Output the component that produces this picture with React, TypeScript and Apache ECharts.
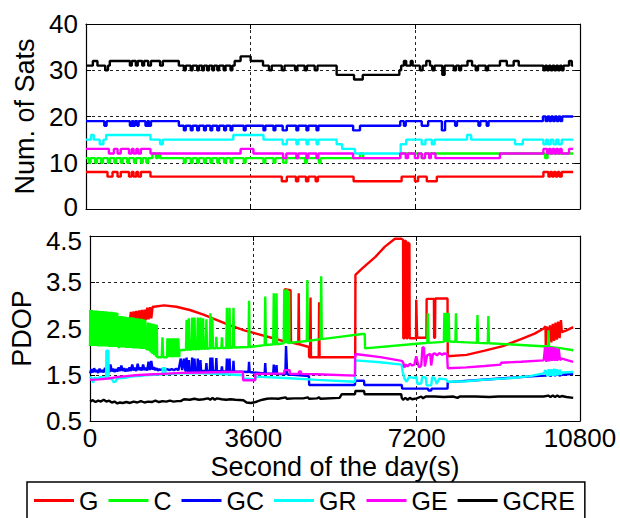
import React, { useEffect, useRef } from "react";
import * as echarts from "echarts";

// ---------- labels ----------
const seriesNames = ["G", "C", "GC", "GR", "GE", "GCRE"];
const seriesColors = ["#ff0000", "#00ff00", "#0000ff", "#00ffff", "#ff00ff", "#000000"];
const xTicks = [0, 3600, 7200, 10800];
const satsTicks = [0, 10, 20, 30, 40];
const pdopTicks = [0.5, 1.5, 2.5, 3.5, 4.5];

// ---------- Num. of Sats (step data: [second, count]) ----------
const satsG = [[0,8],[470,7],[580,8],[690,7],[760,8],[940,7],[1000,8],[1040,7],[1100,8],[1140,7],[1200,8],[1410,7],[4280,6],[4390,7],[4590,6],[4640,7],[4810,6],[4860,7],[5020,6],[5070,7],[5850,6],[6900,7],[7190,6],[7260,7],[7450,6],[7670,7],[10000,8],[10110,7],[10150,8],[10190,7],[10230,8],[10270,7],[10310,8],[10350,7],[10400,8],[10650,8]];
const satsC = [[0,11],[60,10],[100,11],[200,10],[240,11],[330,10],[370,11],[480,10],[520,11],[620,10],[660,11],[760,10],[800,11],[900,10],[940,11],[1050,10],[1090,11],[1200,10],[1240,11],[1320,10],[1360,11],[1450,12],[1530,11],[1570,12],[1620,11],[2140,10],[2180,11],[2290,10],[2330,11],[2430,10],[2470,11],[2580,10],[2620,11],[2720,10],[2760,11],[2870,10],[2910,11],[3020,10],[3060,11],[3160,10],[3200,11],[3450,10],[3490,11],[3880,10],[3920,11],[4100,10],[4140,11],[4310,10],[4380,11],[4790,10],[4830,11],[5090,10],[5130,11],[5990,12],[6060,11],[6870,12],[7340,11],[7410,12],[10040,11],[10090,12],[10650,12]];
const satsGC = [[0,19],[400,18],[450,19],[960,18],[1000,19],[1040,18],[1070,19],[1120,18],[1150,19],[1300,18],[1340,19],[1380,18],[1420,19],[2030,18],[2140,17],[2180,18],[2290,17],[2330,18],[2430,17],[2470,18],[2580,17],[2620,18],[2720,17],[2760,18],[2870,17],[2910,18],[3020,17],[3060,18],[3160,17],[3200,18],[3450,17],[3490,18],[3880,17],[3920,18],[4100,17],[4140,18],[4300,17],[4390,18],[4600,17],[4640,18],[4820,17],[4860,18],[5040,17],[5080,18],[5840,17],[5990,18],[6870,19],[6950,18],[6990,19],[7340,18],[7480,19],[7780,17],[7850,19],[8070,18],[8110,19],[8580,18],[8620,19],[8760,18],[8800,19],[9990,20],[10050,19],[10090,20],[10130,19],[10170,20],[10210,19],[10250,20],[10290,19],[10330,20],[10370,19],[10410,20],[10650,20]];
const satsGR = [[0,15],[110,16],[170,15],[300,14],[380,15],[440,16],[1410,15],[1620,14],[1680,15],[3220,16],[3880,15],[4300,14],[4390,15],[4600,14],[4640,15],[4820,14],[4860,15],[5040,14],[5080,15],[5480,14],[5600,13],[5880,12],[6880,14],[7000,15],[7340,14],[7420,15],[7560,14],[7620,15],[8330,16],[8420,15],[9380,14],[9550,15],[10000,14],[10060,15],[10100,14],[10160,15],[10220,14],[10280,15],[10330,14],[10400,15],[10650,15]];
const satsGE = [[0,13],[500,12],[610,13],[690,12],[760,13],[940,12],[1000,13],[1040,12],[1100,13],[1140,12],[1200,13],[1410,12],[3380,13],[3660,12],[4310,11],[4380,12],[4600,11],[4640,12],[4820,11],[4860,12],[5040,11],[5080,12],[5840,11],[6870,12],[6990,11],[7040,12],[7190,11],[7260,12],[7340,11],[7410,12],[7500,11],[7540,12],[7640,11],[9050,12],[10000,13],[10080,12],[10120,13],[10160,12],[10200,13],[10240,12],[10280,13],[10320,12],[10360,13],[10400,12],[10560,13],[10650,13]];
const satsGCRE = [[0,31],[150,32],[250,31],[420,30],[480,31],[520,32],[960,31],[1000,32],[1090,31],[1130,32],[1230,31],[1270,32],[1360,31],[1420,32],[1620,31],[1680,32],[2030,31],[2140,30],[2180,31],[2290,30],[2330,31],[2430,30],[2470,31],[2540,30],[2580,31],[2650,30],[2690,31],[2760,30],[2800,31],[2870,30],[2910,31],[3010,30],[3050,31],[3160,30],[3200,31],[3250,32],[3380,33],[3600,32],[3870,31],[4000,30],[4060,31],[4280,30],[4340,31],[4570,30],[4620,31],[4780,30],[4830,31],[5000,30],[5060,31],[5480,29],[5860,28],[6050,29],[6850,30],[6890,31],[6950,32],[7000,31],[7100,32],[7140,31],[7300,30],[7360,31],[7440,32],[7520,31],[7570,30],[7620,31],[7790,29],[7840,31],[8040,30],[8090,31],[8160,30],[8200,31],[8340,32],[8440,31],[8520,30],[8570,31],[8740,30],[8790,31],[9050,32],[9200,31],[9350,32],[9460,31],[10000,30],[10040,31],[10080,30],[10120,31],[10160,30],[10200,31],[10240,30],[10280,31],[10320,30],[10360,31],[10400,30],[10440,31],[10560,32],[10620,31],[10650,31]];

// ---------- PDOP ([second, pdop]) ----------
const pdopG = [[0,2.36],[300,2.45],[600,2.55],[870,2.62],[900,2.86],[930,2.63],[960,2.87],[990,2.64],[1020,2.88],[1050,2.65],[1080,2.89],[1110,2.66],[1140,2.9],[1170,2.67],[1200,2.91],[1230,2.68],[1260,2.95],[1290,2.7],[1320,2.96],[1350,2.72],[1380,2.97],[1410,2.97],[1630,3.0],[1900,2.97],[2200,2.9],[2500,2.8],[2800,2.68],[3100,2.56],[3400,2.46],[3700,2.38],[4000,2.3],[4280,2.22],[4290,3.35],[4420,3.33],[4430,2.2],[4590,2.16],[4600,3.26],[4610,2.16],[4825,2.1],[4830,1.88],[4850,1.88],[4860,3.17],[4870,1.88],[5040,1.88],[5050,3.07],[5060,1.88],[5845,1.88],[5850,3.66],[6000,3.8],[6290,4.05],[6500,4.27],[6720,4.44],[6860,4.44],[6900,4.42],[6905,2.29],[6930,2.29],[6935,4.4],[6970,4.38],[6975,2.29],[7000,2.29],[7005,4.36],[7040,4.33],[7045,2.29],[7185,2.29],[7190,3.12],[7205,3.12],[7210,2.3],[7415,2.3],[7420,3.14],[7580,3.14],[7585,2.3],[7605,2.3],[7610,3.15],[7880,3.15],[7885,1.9],[8300,1.93],[8700,2.02],[9100,2.12],[9500,2.27],[9800,2.39],[10000,2.5],[10040,2.55],[10045,2.14],[10080,2.54],[10110,2.17],[10140,2.57],[10170,2.2],[10200,2.6],[10230,2.23],[10260,2.63],[10290,2.26],[10320,2.65],[10350,2.29],[10380,2.68],[10400,2.42],[10500,2.46],[10650,2.53]];
const pdopC = [[0,2.12],[5,2.9],[20,2.12],[40,2.9],[60,2.12],[80,2.89],[100,2.12],[120,2.89],[140,2.12],[160,2.89],[180,2.11],[200,2.88],[220,2.11],[240,2.88],[260,2.11],[280,2.88],[300,2.11],[320,2.87],[340,2.11],[360,2.87],[380,2.11],[400,2.86],[420,2.1],[440,2.86],[460,2.1],[480,2.86],[500,2.1],[520,2.85],[540,2.1],[560,2.85],[580,2.1],[600,2.84],[620,2.1],[650,2.1],[655,2.77],[675,2.09],[695,2.77],[715,2.09],[735,2.76],[755,2.09],[775,2.76],[795,2.08],[815,2.75],[835,2.08],[855,2.75],[875,2.08],[895,2.74],[915,2.08],[935,2.74],[955,2.07],[975,2.73],[995,2.07],[1015,2.72],[1035,2.07],[1055,2.72],[1075,2.07],[1095,2.71],[1115,2.06],[1135,2.71],[1155,2.06],[1175,2.7],[1195,2.06],[1215,2.69],[1235,2.06],[1270,2.05],[1275,2.63],[1295,2.02],[1315,2.62],[1335,1.98],[1355,2.61],[1375,1.95],[1395,2.6],[1415,1.92],[1435,2.59],[1455,1.89],[1470,2.58],[1480,1.88],[1580,1.88],[1596,2.31],[1612,1.88],[1700,1.88],[1705,2.29],[1725,1.88],[1745,2.29],[1765,1.88],[1785,2.29],[1805,1.88],[1825,2.29],[1845,1.88],[1865,2.29],[1885,1.88],[1905,2.29],[1925,1.88],[1945,2.29],[1965,1.88],[1975,2.03],[2115,2.04],[2128,2.69],[2140,2.04],[2165,2.04],[2179,2.72],[2192,2.04],[2238,2.05],[2251,2.74],[2264,2.05],[2290,2.05],[2303,2.74],[2316,2.05],[2362,2.05],[2375,2.74],[2388,2.05],[2421,2.06],[2434,2.74],[2447,2.06],[2479,2.06],[2492,2.72],[2505,2.06],[2552,2.06],[2565,2.7],[2578,2.06],[2640,2.07],[2653,2.83],[2666,2.07],[2683,2.07],[2696,2.74],[2709,2.07],[2771,2.07],[2784,2.32],[2797,2.07],[2894,2.08],[2907,2.31],[2920,2.08],[3004,2.08],[3017,2.95],[3030,2.08],[3062,2.08],[3075,2.95],[3088,2.08],[3149,2.09],[3162,2.95],[3175,2.09],[3492,2.1],[3505,3.1],[3518,2.1],[3849,2.14],[3862,3.19],[3875,2.14],[4037,2.16],[4050,3.26],[4063,2.16],[4097,2.16],[4110,3.26],[4123,2.16],[4270,2.18],[4280,3.33],[4290,2.18],[4300,2.18],[4310,3.35],[4320,2.18],[4335,2.18],[4345,3.35],[4355,2.18],[4375,2.19],[4385,3.3],[4395,2.19],[4777,2.23],[4790,3.55],[4803,2.23],[5082,2.27],[5095,3.63],[5108,2.27],[5500,2.32],[6000,2.38],[6055,2.38],[6062,2.07],[7200,2.17],[7434,2.19],[7447,2.83],[7460,2.19],[7798,2.21],[7811,2.84],[7824,2.21],[7830,2.21],[7840,2.84],[7850,2.21],[7860,2.21],[7870,2.84],[7880,2.21],[7893,2.22],[7906,2.84],[7919,2.22],[8053,2.21],[8066,2.83],[8079,2.21],[8527,2.19],[8540,2.79],[8553,2.19],[8767,2.18],[8780,2.77],[8793,2.18],[9400,2.15],[10070,2.11],[10095,2.1],[10106,2.46],[10118,2.1],[10400,2.07],[10650,2.03]];
const pdopGC = [[0,1.53],[30,1.62],[60,1.55],[90,1.64],[120,1.56],[150,1.6],[180,1.54],[210,1.63],[240,1.56],[270,1.6],[300,1.55],[330,1.65],[360,1.56],[390,1.62],[420,1.55],[450,1.72],[480,1.57],[510,1.63],[540,1.56],[570,1.62],[600,1.57],[630,1.66],[660,1.58],[690,1.7],[720,1.58],[750,1.64],[780,1.57],[810,1.63],[840,1.58],[870,1.66],[900,1.58],[930,1.72],[960,1.59],[990,1.65],[1020,1.58],[1050,1.74],[1080,1.6],[1110,1.66],[1140,1.59],[1170,1.72],[1200,1.6],[1230,1.65],[1260,1.59],[1290,1.78],[1320,1.6],[1350,1.8],[1380,1.61],[1410,1.66],[1440,1.6],[1470,1.64],[1500,1.59],[1530,1.62],[1560,1.6],[1600,1.63],[1650,1.6],[1700,1.62],[1750,1.6],[1800,1.62],[1850,1.6],[1900,1.63],[1950,1.6],[2000,1.85],[2030,1.6],[2070,1.85],[2100,1.59],[2115,1.58],[2128,1.87],[2140,1.58],[2165,1.58],[2179,1.82],[2192,1.58],[2238,1.58],[2251,1.87],[2264,1.58],[2290,1.58],[2303,1.85],[2316,1.58],[2362,1.58],[2375,1.85],[2388,1.58],[2421,1.58],[2434,1.82],[2447,1.58],[2552,1.58],[2565,1.75],[2578,1.58],[2640,1.58],[2653,1.87],[2666,1.58],[2683,1.58],[2696,1.87],[2709,1.58],[2771,1.58],[2784,1.86],[2797,1.58],[2894,1.57],[2907,1.68],[2920,1.57],[3004,1.57],[3017,1.85],[3030,1.57],[3062,1.57],[3075,1.85],[3088,1.57],[3149,1.57],[3162,1.8],[3175,1.57],[3492,1.56],[3505,1.78],[3518,1.56],[3600,1.55],[3849,1.53],[3862,1.75],[3875,1.53],[4037,1.52],[4050,1.72],[4063,1.52],[4097,1.52],[4110,1.71],[4123,1.52],[4305,1.51],[4320,2.12],[4345,1.51],[4825,1.47],[4830,1.28],[5840,1.28],[5845,1.37],[6040,1.37],[6045,1.28],[6870,1.28],[6880,1.2],[7450,1.2],[7460,1.16],[7520,1.16],[7530,1.2],[7880,1.2],[7885,1.34],[8500,1.38],[9200,1.43],[9800,1.47],[10050,1.48],[10100,1.52],[10150,1.47],[10200,1.52],[10250,1.48],[10300,1.52],[10350,1.48],[10400,1.5],[10650,1.52]];
const pdopGR = [[0,1.46],[40,1.42],[70,1.33],[100,1.44],[160,1.42],[220,1.45],[300,1.44],[355,1.44],[360,2.02],[405,2.02],[410,1.43],[480,1.41],[520,1.34],[560,1.35],[600,1.42],[700,1.43],[800,1.44],[900,1.46],[1000,1.47],[1100,1.47],[1200,1.49],[1400,1.5],[1595,1.51],[1600,1.64],[1660,1.64],[1665,1.51],[2000,1.53],[2500,1.53],[3000,1.51],[3370,1.49],[3375,1.42],[3650,1.4],[3660,1.46],[4300,1.43],[5000,1.39],[5840,1.35],[5845,1.81],[6400,1.77],[6870,1.72],[6890,1.57],[6930,1.42],[6980,1.35],[7030,1.45],[7150,1.43],[7190,1.46],[7220,1.3],[7300,1.31],[7320,1.45],[7400,1.44],[7420,1.27],[7520,1.27],[7540,1.45],[7600,1.42],[7640,1.3],[7700,1.42],[7850,1.4],[7885,1.35],[8300,1.36],[8650,1.39],[9300,1.43],[9700,1.47],[10000,1.53],[10040,1.6],[10080,1.47],[10110,1.62],[10140,1.47],[10170,1.62],[10200,1.48],[10230,1.63],[10260,1.48],[10290,1.62],[10320,1.49],[10350,1.61],[10380,1.5],[10400,1.55],[10650,1.56]];
const pdopGE = [[0,1.39],[200,1.4],[400,1.42],[600,1.45],[800,1.47],[1000,1.49],[1200,1.5],[1400,1.51],[1600,1.52],[2000,1.54],[2500,1.55],[3000,1.56],[3370,1.56],[3375,1.38],[3640,1.38],[3645,1.52],[3900,1.52],[4280,1.53],[4285,1.6],[4400,1.6],[4405,1.52],[4600,1.52],[4605,1.57],[4650,1.57],[4655,1.52],[5000,1.51],[5840,1.48],[5845,1.95],[6400,1.88],[6870,1.8],[6900,1.77],[6930,1.66],[6960,1.72],[7000,1.68],[7050,1.74],[7100,1.7],[7150,1.72],[7190,1.9],[7230,1.72],[7260,1.66],[7300,1.7],[7330,2.1],[7360,2.08],[7380,1.68],[7430,1.92],[7500,1.95],[7520,1.7],[7560,1.95],[7600,1.96],[7650,1.92],[7700,1.97],[7760,1.93],[7800,1.96],[7870,1.95],[7885,1.64],[8300,1.66],[8700,1.69],[9050,1.72],[9060,1.76],[9500,1.78],[10000,1.81],[10030,2.1],[10060,1.78],[10090,2.1],[10120,1.79],[10150,2.1],[10180,1.8],[10210,2.1],[10240,1.8],[10270,2.08],[10300,1.8],[10330,2.06],[10360,1.82],[10400,1.85],[10650,1.78]];
const pdopGCRE = [[0,0.92],[60,0.95],[120,0.91],[180,0.94],[240,0.92],[300,0.96],[360,0.92],[420,0.94],[480,0.9],[540,0.92],[600,0.88],[660,0.9],[720,0.89],[800,0.91],[880,0.89],[960,0.92],[1040,0.9],[1120,0.93],[1200,0.9],[1280,0.92],[1360,0.91],[1440,0.94],[1520,0.91],[1600,0.93],[1680,0.92],[1760,0.94],[1840,0.92],[1920,0.93],[2000,0.93],[2070,0.97],[2200,0.96],[2300,0.98],[2400,0.96],[2500,0.97],[2600,0.99],[2650,0.96],[2700,1.0],[2750,0.96],[2800,0.99],[2900,0.97],[3000,0.96],[3100,0.97],[3200,0.96],[3380,0.95],[3450,0.9],[3550,0.89],[3650,0.91],[3700,0.93],[3800,0.96],[3900,0.98],[4000,0.99],[4150,0.98],[4310,1.01],[4340,0.98],[4500,0.99],[4700,0.99],[4800,1.01],[4830,0.98],[5000,0.99],[5050,1.01],[5080,0.98],[5500,1.0],[5550,1.08],[5840,1.08],[5850,1.15],[6040,1.15],[6050,1.08],[6860,1.08],[6870,1.0],[6900,0.96],[6950,1.0],[7000,0.96],[7050,1.0],[7100,0.97],[7200,0.99],[7300,1.03],[7340,0.99],[7400,1.03],[7600,1.03],[7800,1.02],[8000,1.03],[8100,1.0],[8150,1.03],[8500,1.03],[8800,1.02],[9000,1.03],[9500,1.03],[10000,1.03],[10100,1.05],[10150,1.02],[10200,1.05],[10250,1.02],[10300,1.05],[10350,1.02],[10400,1.04],[10500,1.02],[10650,1.0]];

const satsData = [satsG, satsC, satsGC, satsGR, satsGE, satsGCRE];
const pdopData = [pdopG, pdopC, pdopGC, pdopGR, pdopGE, pdopGCRE];

const FONT = "'Liberation Sans', Arial, Helvetica, sans-serif";

function buildOption() {
  const lineW = 2.4;
  const grids = [
    { left: 86, top: 24, width: 494, height: 185 },
    { left: 86, top: 236, width: 494, height: 185 },
  ];
  const axisLine = { show: true, onZero: false, lineStyle: { color: "#000", width: 1.2 } };
  const tick = { show: true, inside: true, length: 5, lineStyle: { color: "#000", width: 1 } };
  const split = { show: true, lineStyle: { color: "#222", width: 1, type: [3, 3] } };
  const labelStyle = { color: "#000", fontSize: 26, fontFamily: FONT, lineHeight: 22 };
  const plain = (v: number) => String(v);
  const topPdop = pdopTicks[pdopTicks.length - 1];
  const bottomSats = satsTicks[0];

  const xAxis: any[] = [];
  const yAxis: any[] = [];
  [0, 1].forEach((g) => {
    xAxis.push({
      type: "value", gridIndex: g, min: xTicks[0], max: xTicks[xTicks.length - 1],
      interval: xTicks[1] - xTicks[0], position: "bottom",
      axisLine, axisTick: tick, splitLine: split,
      axisLabel: g === 1 ? { ...labelStyle, margin: 6, formatter: plain } : { show: false },
      name: g === 1 ? "Second of the day(s)" : "",
      nameLocation: "middle", nameGap: 32,
      nameTextStyle: { color: "#000", fontSize: 27, fontFamily: FONT },
    });
    xAxis.push({
      type: "value", gridIndex: g, min: xTicks[0], max: xTicks[xTicks.length - 1],
      interval: xTicks[1] - xTicks[0], position: "top",
      axisLine, axisTick: tick, splitLine: { show: false }, axisLabel: { show: false },
    });
    const ticks = g === 0 ? satsTicks : pdopTicks;
    const yBase = {
      type: "value", gridIndex: g, min: ticks[0], max: ticks[ticks.length - 1],
      interval: ticks[1] - ticks[0],
    };
    const formatter = g === 0
      ? (v: number) => (v === bottomSats ? "{lo|" + v + "}" : String(v))
      : (v: number) => (v === topPdop ? "{hi|" + v + "}" : String(v));
    yAxis.push({
      ...yBase, position: "left",
      axisLine, axisTick: tick, splitLine: split,
      axisLabel: {
        ...labelStyle, margin: 8, formatter,
        rich: {
          hi: { color: "#000", fontSize: 26, fontFamily: FONT, lineHeight: 22, padding: [9, 0, 0, 0] },
          lo: { color: "#000", fontSize: 26, fontFamily: FONT, lineHeight: 22, padding: [0, 0, 4, 0] },
        },
      },
      name: g === 0 ? "Num. of Sats" : "PDOP",
      nameLocation: "middle", nameGap: 42,
      nameTextStyle: { color: "#000", fontSize: 27, fontFamily: FONT },
    });
    yAxis.push({
      ...yBase, position: "right",
      axisLine, axisTick: tick, splitLine: { show: false }, axisLabel: { show: false },
    });
  });

  const series: any[] = [];
  seriesNames.forEach((name, i) => {
    series.push({
      name, type: "line", xAxisIndex: 0, yAxisIndex: 0, step: "end",
      data: satsData[i], symbol: "none", showSymbol: false,
      lineStyle: { color: seriesColors[i], width: lineW },
      itemStyle: { color: seriesColors[i] },
    });
  });
  seriesNames.forEach((name, i) => {
    series.push({
      name, type: "line", xAxisIndex: 2, yAxisIndex: 2,
      data: pdopData[i], symbol: "none", showSymbol: false,
      lineStyle: { color: seriesColors[i], width: lineW },
      itemStyle: { color: seriesColors[i] },
    });
  });

  return {
    animation: false,
    backgroundColor: "#fff",
    grid: grids,
    xAxis,
    yAxis,
    legend: {
      data: seriesNames,
      left: 27, top: 482,
      icon: "rect", itemWidth: 40, itemHeight: 3, itemGap: 10,
      padding: [6, 10, 30, 7],
      borderColor: "#000", borderWidth: 1.5,
      textStyle: { color: "#000", fontSize: 25, fontFamily: FONT },
      selectedMode: false,
    },
    series,
  };
}

export default function App() {
  const ref = useRef<HTMLDivElement>(null);
  useEffect(() => {
    if (!ref.current) return;
    const chart = echarts.init(ref.current, null, { renderer: "svg" });
    chart.setOption(buildOption() as any);
    return () => chart.dispose();
  }, []);
  return (
    <div
      ref={ref}
      style={{ position: "absolute", left: 0, top: 0, width: 620, height: 518, background: "#fff" }}
    />
  );
}
